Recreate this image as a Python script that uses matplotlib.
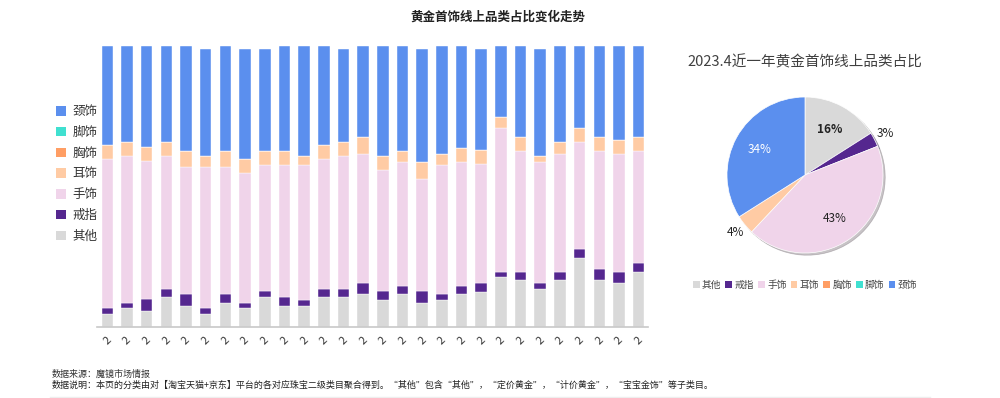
import matplotlib
matplotlib.use("Agg")
import matplotlib.pyplot as plt
from matplotlib.patches import Patch
import numpy as np

plt.rcParams['font.family'] = ['Noto Sans CJK SC', 'DejaVu Sans']

categories = ['其他', '戒指', '手饰', '耳饰', '胸饰', '脚饰', '颈饰']
colors = ['#D9D9D9', '#55278F', '#F0D4EA', '#FFCBA4', '#FF9E64', '#40E0D0', '#5B8FEE']

x_labels = ['2'] * 28

other = [4.5, 6.7, 5.6, 10.6, 7.6, 4.5, 8.7, 6.7, 10.6, 7.6, 7.6, 10.6, 10.6, 11.6,
         9.6, 11.6, 8.7, 9.6, 11.6, 12.6, 17.7, 16.6, 13.7, 16.6, 24.6, 16.6, 15.7, 19.7]
ring = [2.3, 2.0, 4.2, 3.1, 4.0, 2.3, 3.0, 2.0, 2.1, 3.1, 2.1, 3.1, 3.1, 4.0,
        3.1, 3.0, 4.0, 2.0, 3.0, 3.1, 2.0, 3.1, 2.0, 3.1, 3.1, 4.0, 4.0, 3.0]
hand = [53.0, 52.3, 49.2, 47.3, 45.2, 50.1, 45.2, 46.2, 45.1, 47.1, 48.1, 46.1, 47.1, 46.1,
        43.1, 44.2, 40.1, 46.2, 44.2, 42.2, 51.1, 43.1, 43.1, 42.0, 38.1, 42.2, 42.0, 40.1]
ear = [5.0, 5.0, 5.0, 5.0, 5.9, 3.9, 5.9, 5.0, 5.0, 5.0, 3.0, 5.0, 5.0, 5.9,
       5.0, 4.0, 5.9, 3.9, 5.0, 5.0, 4.0, 4.9, 2.0, 4.0, 5.0, 4.9, 5.0, 4.9]
brooch = [0.0] * 28
anklet = [0.0] * 28
neck = [35.3, 34.1, 36.1, 34.1, 37.2, 38.1, 37.2, 39.1, 36.1, 37.2, 39.2, 35.3, 33.1, 32.3,
        39.2, 37.2, 40.1, 38.2, 36.2, 36.1, 25.2, 32.3, 38.1, 34.2, 29.2, 32.3, 33.3, 32.3]

pie_values = [16, 3, 43, 4, 0, 0, 34]

series = [other, ring, hand, ear, brooch, anklet, neck]

fig = plt.figure(figsize=(10, 3.98), dpi=100)
W, H = 1000, 398

# ---- stacked bar chart ----
ax = fig.add_axes([97 / W, (H - 327) / H, (648 - 97) / W, (327 - 46) / H])
x = np.arange(len(x_labels))
bottom = np.zeros(len(x_labels))
for vals, col, name in zip(series, colors, categories):
    v = np.array(vals)
    ax.bar(x, v, bottom=bottom, width=0.58, color=col, edgecolor='white', linewidth=0.3, label=name)
    bottom += v
ax.set_ylim(0, 100)
ax.set_xlim(-0.53, len(x_labels) - 0.52)
for s in ['top', 'right', 'left']:
    ax.spines[s].set_visible(False)
ax.spines['bottom'].set_color('#C8C8C8')
ax.spines['bottom'].set_linewidth(1.2)
ax.set_yticks([])
ax.set_xticks(x)
ax.set_xticklabels(x_labels, rotation=45, fontsize=8, color='#333333')
ax.tick_params(axis='x', length=0, pad=6)

fig.text(498 / W, 1 - 17 / H, '黄金首饰线上品类占比变化走势', ha='center', va='center',
         fontsize=9, fontweight='bold', color='#222222')

# left legend (reversed order)
handles = [Patch(facecolor=c, edgecolor='none') for c in colors]
leg1 = fig.legend(handles[::-1], categories[::-1], loc='upper left',
                  bbox_to_anchor=(45 / W, 1 - 94 / H), frameon=False, fontsize=9,
                  handlelength=0.8, handleheight=0.8, handletextpad=0.5,
                  labelspacing=0.62, labelcolor='#333333')

# ---- pie chart ----
cx, cy, R = 805, 175, 80
pax = fig.add_axes([(cx - R) / W, (H - cy - R) / H, 2 * R / W, 2 * R / H])
pv = [(v, c, n) for v, c, n in zip(pie_values, colors, categories) if v > 0]
vals = [p[0] for p in pv]
cols = [p[1] for p in pv]
wedges, _ = pax.pie(vals, colors=cols, startangle=90, counterclock=False, radius=0.975,
                    wedgeprops=dict(linewidth=0.5, edgecolor='white'),
                    shadow=dict(ox=0.02, oy=-0.02, shade=0.6, alpha=0.35))
pax.set_xlim(-1, 1)
pax.set_ylim(-1, 1)
pax.set_aspect('equal')
pax.axis('off')

total = sum(vals)
for w, (v, c, n) in zip(wedges, pv):
    ang = np.deg2rad((w.theta1 + w.theta2) / 2)
    frac = v / total
    if frac < 0.06:
        r = 1.13
        color = '#222222'
        weight = 'normal'
    else:
        r = 0.65
        color = 'white' if n == '颈饰' else '#222222'
        weight = 'bold' if n == '其他' else 'normal'
    pax.text(r * np.cos(ang), r * np.sin(ang), f'{v}%', ha='center', va='center',
             fontsize=8.5, color=color, fontweight=weight)

fig.text(805 / W, 1 - 62 / H, '2023.4近一年黄金首饰线上品类占比', ha='center', va='center',
         fontsize=10.5, color='#404040')

leg2 = fig.legend(handles, categories, loc='center', bbox_to_anchor=(805 / W, 1 - 285 / H),
                  ncol=7, frameon=False, fontsize=7, handlelength=0.7, handleheight=0.7,
                  handletextpad=0.25, columnspacing=0.4, labelcolor='#444444')

# ---- footer ----
fig.text(52 / W, 1 - 374 / H, '数据来源：魔镜市场情报', ha='left', va='center', fontsize=6.5, color='#333333')
fig.text(52 / W, 1 - 385 / H,
         '数据说明：本页的分类由对【淘宝天猫+京东】平台的各对应珠宝二级类目聚合得到。“其他”包含“其他”，“定价黄金”，“计价黄金”，“宝宝金饰”等子类目。',
         ha='left', va='center', fontsize=6.5, color='#222222')
fig.add_artist(plt.Line2D([50 / W, 930 / W], [1 - 396.5 / H, 1 - 396.5 / H], color='#EEEEEE', linewidth=1))

fig.savefig('out.png', dpi=100)
